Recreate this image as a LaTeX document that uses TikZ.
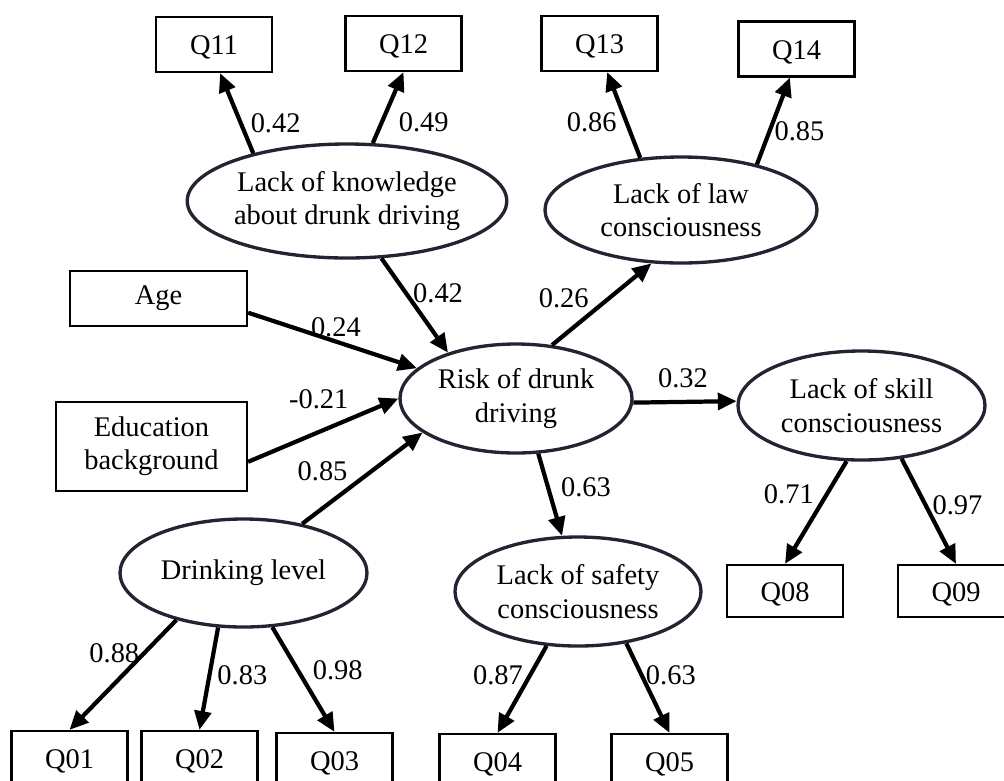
\documentclass[tikz,border=0pt]{standalone}
\usepackage{fontspec}
\setmainfont{Liberation Serif}
\usepackage{tikz}
\usetikzlibrary{arrows.meta,shapes.geometric}
\definecolor{ellline}{RGB}{35,35,50}
\newcommand{\pxu}{0.45pt}

\begin{document}
\begin{tikzpicture}[x=0.45pt,y=-0.45pt,font=\fontsize{12.8}{15}\selectfont,>={Triangle[length=8.5pt,width=7.5pt]}]
\tikzset{box/.style={draw,line width=1pt,minimum width=116*\pxu,minimum height=55*\pxu,
inner sep=0pt,align=center},
qbox/.style={box,text height=9pt,text depth=0pt},
lat/.style={ellipse,draw=ellline,line width=1.5pt,inner sep=0pt,align=center},
arr/.style={->,line width=1.9pt},
lbl/.style={inner sep=1pt}}
\clip (0,0) rectangle (1004,780);
% latent variables
\node[lat,minimum width=314*\pxu,minimum height=114*\pxu] (kn) at (347,201) {Lack of knowledge\\about drunk driving};
\node[lat,minimum width=272*\pxu,minimum height=106*\pxu] (law) at (681,210) {Lack of law\\consciousness};
\node[lat,minimum width=232*\pxu,minimum height=109*\pxu] (risk) at (516,398.5) {Risk of drunk\\driving};
\node[lat,minimum width=247*\pxu,minimum height=109*\pxu] (skill) at (861.5,405.5) {Lack of skill\\consciousness};
\node[lat,minimum width=247*\pxu,minimum height=108*\pxu] (drink) at (243.5,573) {Drinking level};
\node[lat,minimum width=246*\pxu,minimum height=109*\pxu] (safe) at (578,591.5) {Lack of safety\\consciousness};
% observed variables
\node[qbox] (q11) at (214,44.5) {Q11};
\node[qbox] (q12) at (403.5,43.5) {Q12};
\node[qbox] (q13) at (599.5,43.5) {Q13};
\node[qbox] (q14) at (796.5,49) {Q14};
\node[box,minimum width=177*\pxu] (age) at (158.5,298.5) {Age};
\node[box,minimum width=191*\pxu,minimum height=89*\pxu] (edu) at (151.5,446.5) {Education\\background};
\node[qbox,minimum height=52*\pxu] (q08) at (785,591) {Q08};
\node[qbox,minimum height=52*\pxu] (q09) at (956,591) {Q09};
\node[qbox] (q01) at (69.5,758.5) {Q01};
\node[qbox] (q02) at (199.5,758.5) {Q02};
\node[qbox] (q03) at (334.5,760.5) {Q03};
\node[qbox] (q04) at (497.5,761.5) {Q04};
\node[qbox] (q05) at (669.5,761.5) {Q05};
% paths
\draw[arr] (kn.153)--node[lbl,pos=.38,xshift=35*\pxu]{0.42}(q11.-78);
\draw[arr] (kn.66)--node[lbl,pos=.29,xshift=42*\pxu]{0.49}(q12.south);
\draw[arr] (law.128)--node[lbl,pos=.41,xshift=-35*\pxu]{0.86}(q13.-75);
\draw[arr] (law.31)--node[lbl,pos=.38,xshift=30*\pxu]{0.85}(q14.-103);
\draw[arr] (kn.-59.5)--node[lbl,pos=.37,xshift=32*\pxu]{0.42}(risk.146);
\draw[arr] (age.-9)--node[lbl,pos=.52,yshift=14*\pxu]{0.24}(risk.163.5);
\draw[arr] (edu.-9.7)--node[lbl,pos=.47,yshift=33*\pxu]{-0.21}(risk.180);
\draw[arr] (drink.40)--node[lbl,pos=.17,yshift=37*\pxu]{0.85}(risk.-160);
\draw[arr] (risk.56)--node[lbl,pos=.57,xshift=-45*\pxu]{0.26}(law.-119);
\draw[arr] (risk.-2)--node[lbl,pos=.48,yshift=24*\pxu]{0.32}(skill.178);
\draw[arr] (risk.-68)--node[lbl,pos=.41,xshift=38*\pxu]{0.63}(safe.106);
\draw[arr] (skill.-105.5)--node[lbl,pos=.32,xshift=-38*\pxu]{0.71}(q08.north);
\draw[arr] (skill.-53.5)--node[lbl,pos=.44,xshift=32*\pxu]{0.97}(q09.north);
\draw[arr] (drink.-145)--node[lbl,pos=.3,xshift=-30*\pxu]{0.88}(q01.north);
\draw[arr] (drink.-115)--node[lbl,pos=.47,xshift=33*\pxu]{0.83}(q02.north);
\draw[arr] (drink.-62)--node[lbl,pos=.41,xshift=40*\pxu]{0.98}(q03.north);
\draw[arr] (safe.-120.5)--node[lbl,pos=.34,xshift=-32*\pxu]{0.87}(q04.north);
\draw[arr] (safe.-47)--node[lbl,pos=.36,xshift=29*\pxu]{0.63}(q05.north);
\end{tikzpicture}
\end{document}
